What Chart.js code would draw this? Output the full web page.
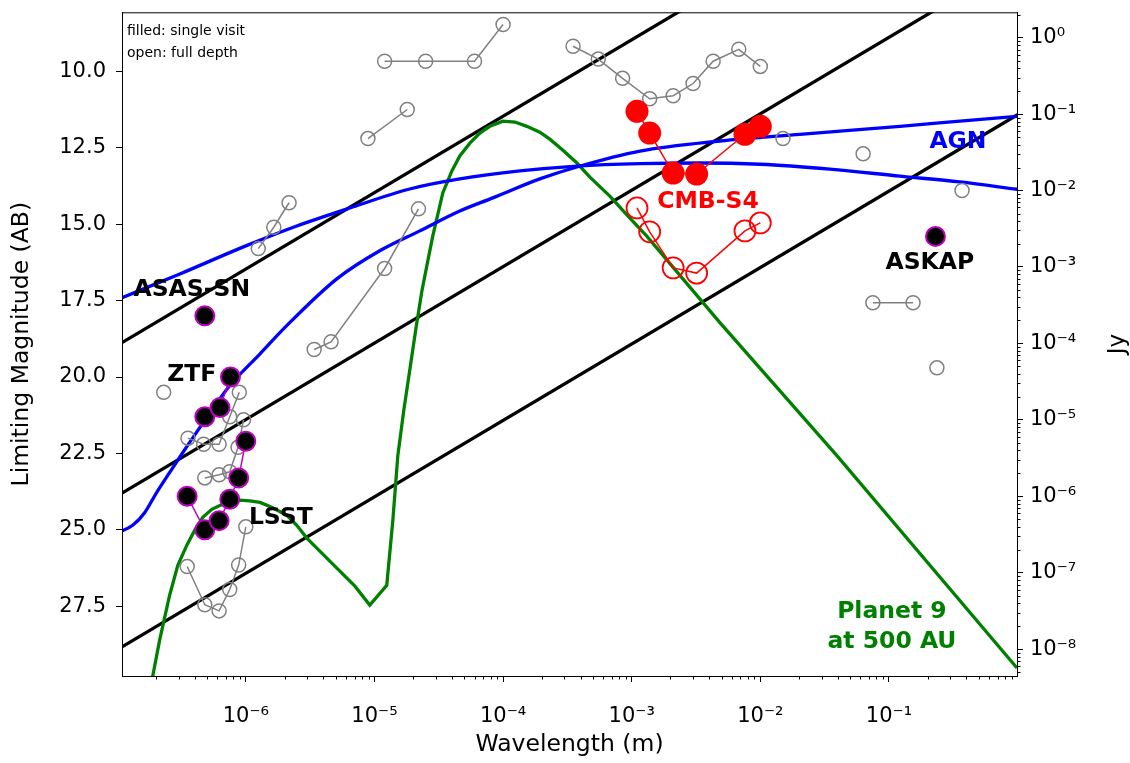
<!DOCTYPE html>
<html>
<head>
<meta charset="utf-8">
<script src="https://cdn.jsdelivr.net/npm/chart.js@4.4.0/dist/chart.umd.min.js"></script>
<style>
  html, body { margin: 0; padding: 0; background: #fff; }
  #wrap { width: 1130px; height: 763px; position: relative; }
</style>
</head>
<body>
<div id="wrap"><canvas id="chart"></canvas></div>
<script>
/** ────── AXES ────── */
const lambdaRange = [1.09e-7, 0.99];
const magRange = [8.07, 29.78];
const magTicks = [10, 12.5, 15, 17.5, 20, 22.5, 25, 27.5];
const lambdaTicks = [1e-6, 1e-5, 1e-4, 1e-3, 1e-2, 1e-1];
const jyTicks = [1, 1e-1, 1e-2, 1e-3, 1e-4, 1e-5, 1e-6, 1e-7, 1e-8];

/** ────── CURVES ────── */
// constant nu*F_nu lines, given at both ends
const diagLambda = [1e-7, 1];
const diagLine1 = [18.97, 1.47];
const diagLine2 = [23.89, 6.39];
const diagLine3 = [28.92, 11.42];

const agnALambda = [1e-7, 3.07e-7, 1e-6, 2.49e-6, 6.44e-6, 1.88e-5, 4.61e-5, 1.35e-4, 3.75e-4, 1.16e-3, 3.39e-3, 9.93e-3, 3.48e-2, 0.122, 0.357, 1];
const agnAMag = [17.47, 16.63, 15.71, 15.06, 14.47, 13.85, 13.52, 13.26, 13.1, 13.02, 13.0, 13.04, 13.2, 13.43, 13.62, 13.86];

const agnBLambda = [1e-7, 1.32e-7, 1.64e-7, 2.03e-7, 2.56e-7, 3.24e-7, 4.8e-7, 7.51e-7, 1.29e-6, 2.08e-6, 5.1e-6,
  1.1e-5, 2.25e-5, 4.61e-5, 8.33e-5, 1.93e-4, 3.75e-4, 1.16e-3, 4.85e-3, 2.03e-2, 0.122, 0.357, 1];
const agnBMag = [25.1, 24.85, 24.43, 23.77, 23.12, 22.47, 21.42, 20.28, 19.24, 18.32, 16.79,
  15.87, 15.22, 14.57, 14.14, 13.52, 13.13, 12.61, 12.28, 12.06, 11.8, 11.63, 11.47];

const planetLambda = [1.73e-7, 1.89e-7, 2.14e-7, 2.56e-7, 2.96e-7, 3.48e-7, 4.01e-7, 4.63e-7, 5.44e-7, 6.28e-7, 7.51e-7,
  8.98e-7, 1.07e-6, 1.29e-6, 1.59e-6, 2.08e-6, 2.49e-6, 2.98e-6, 3.9e-6, 5.1e-6, 7.05e-6, 9.2e-6,
  1.247e-5, 1.39e-5, 1.52e-5, 1.69e-5, 1.88e-5, 2.1e-5, 2.34e-5, 2.6e-5, 2.84e-5, 3.4e-5, 4.0e-5, 4.61e-5,
  5.52e-5, 6.6e-5, 7.9e-5, 9.96e-5, 1.24e-4, 1.53e-4, 1.93e-4, 2.31e-4, 2.92e-4, 3.75e-4, 4.73e-4,
  6.76e-4, 9.68e-4, 1.31e-3, 4.85e-3, 3.94e-2, 0.99];
const planetMag = [30.56, 29.78, 28.6, 27.13, 26.16, 25.5, 25.01, 24.59, 24.33, 24.2, 24.07,
  24.03, 24.05, 24.1, 24.26, 24.52, 24.85, 25.27, 25.76, 26.25, 26.84, 27.46,
  26.81, 24.69, 22.57, 21.1, 19.79, 18.42, 17.18, 16.2, 15.39, 13.98, 13.26, 12.77,
  12.35, 12.02, 11.8, 11.63, 11.66, 11.8, 11.99, 12.22, 12.58, 13.0, 13.46,
  14.08, 14.8, 15.39, 18.22, 22.57, 29.52];

/** ────── SURVEYS ────── */
const lsstLambda = [3.5e-7, 4.8e-7, 6.2e-7, 7.5e-7, 8.8e-7, 1.0e-6];
const lsstSingle = [23.9, 25.0, 24.7, 24.0, 23.3, 22.1];
const lsstFull = [26.2, 27.45, 27.65, 26.95, 26.15, 24.9];

const ztfLambda = [4.8e-7, 6.3e-7, 7.6e-7];
const ztfSingle = [21.3, 21.0, 20.0];

const asassnLambda = [4.8e-7];
const asassnSingle = [18.0];

const askapLambda = [0.23];
const askapSingle = [15.4];

const cmbLambda = [1.1e-3, 1.38e-3, 2.1e-3, 3.2e-3, 7.6e-3, 1.0e-2];
const cmbSingle = [11.31, 12.02, 13.33, 13.36, 12.06, 11.8];
const cmbFull = [14.47, 15.25, 16.43, 16.6, 15.22, 14.96];

const galexLambda = [2.3e-7];
const galexMag = [20.5];
const sdssLambda = [3.55e-7, 4.7e-7, 6.2e-7, 7.5e-7, 8.9e-7];
const sdssMag = [22.0, 22.2, 22.2, 21.3, 20.5];
const ps1Lambda = [4.8e-7, 6.2e-7, 7.5e-7, 8.7e-7, 9.6e-7];
const ps1Mag = [23.3, 23.2, 23.1, 22.3, 21.4];
const tmassLambda = [1.25e-6, 1.65e-6, 2.17e-6];
const tmassMag = [15.8, 15.1, 14.3];
const wiseLambda = [3.4e-6, 4.6e-6, 1.2e-5, 2.2e-5];
const wiseMag = [19.1, 18.85, 16.45, 14.5];
const midirLambda = [8.9e-6, 1.8e-5];
const midirMag = [12.2, 11.25];
const irasLambda = [1.2e-5, 2.5e-5, 6e-5, 1e-4];
const irasMag = [9.67, 9.67, 9.67, 8.47];
const planckLambda = [3.5e-4, 5.5e-4, 8.5e-4, 1.38e-3, 2.1e-3, 3e-3, 4.3e-3, 6.8e-3, 1e-2];
const planckMag = [9.18, 9.6, 10.23, 10.9, 10.8, 10.4, 9.67, 9.28, 9.84];
const radioPairLambda = [0.075, 0.154];
const radioPairMag = [17.57, 17.57];
const radioLambda = [1.5e-2, 6.3e-2, 0.37, 0.236];
const radioMag = [12.2, 12.7, 13.9, 19.7];

/** ────── LABELS ────── */
const labelText = ["ASAS-SN", "ZTF", "LSST", "CMB-S4", "ASKAP", "AGN", "Planet 9", "at 500 AU"];
const labelLambda = [3.8e-7, 3.8e-7, 1.87e-6, 3.92e-3, 0.208, 0.344, 0.1055, 0.1055];
const labelMag = [17.15, 19.92, 24.62, 14.28, 16.27, 12.32, 27.69, 28.67];
const labelColor = ["#000", "#000", "#000", "#ff0000", "#000", "#0000ff", "#008000", "#008000"];

/** ────── HELPERS ────── */
const pts = (xs, ys) => xs.map((x, i) => ({ x, y: ys[i] }));
const SUP = { "-": "⁻", 0: "⁰", 1: "¹", 2: "²", 3: "³", 4: "⁴", 5: "⁵", 6: "⁶", 7: "⁷", 8: "⁸", 9: "⁹" };
const pow10Label = (v) => "10" + String(Math.round(Math.log10(v))).split("").map((c) => SUP[c]).join("");
const magToJy = (m) => Math.pow(10, (8.9 - m) / 2.5);

const FONT = "'DejaVu Sans', 'Liberation Sans', sans-serif";
const GRAY = "#808080";
const MAGENTA = "#bf00bf";

function curve(data, color, order, smooth) {
  return {
    data, borderColor: color, borderWidth: 3.3, pointRadius: 0, fill: false, order,
    tension: smooth ? 0.4 : 0, cubicInterpolationMode: smooth ? "monotone" : "default",
  };
}
function survey(data, opts) {
  return Object.assign({
    data, showLine: true, borderColor: GRAY, borderWidth: 1.5,
    pointRadius: 7, pointBorderWidth: 1.5, pointBorderColor: GRAY,
    pointBackgroundColor: "rgba(0,0,0,0)", fill: false, tension: 0, order: 3,
  }, opts);
}
function blackDots(data) {
  return survey(data, {
    borderColor: MAGENTA, pointRadius: 9.5, pointBorderWidth: 2,
    pointBorderColor: MAGENTA, pointBackgroundColor: "#000", order: 1,
  });
}

const datasets = [
  blackDots(pts(lsstLambda, lsstSingle)),
  blackDots(pts(ztfLambda, ztfSingle)),
  blackDots(pts(asassnLambda, asassnSingle)),
  blackDots(pts(askapLambda, askapSingle)),
  survey(pts(cmbLambda, cmbSingle), {
    borderColor: "#ff0000", pointRadius: 11.5, pointBorderWidth: 0,
    pointBorderColor: "#ff0000", pointBackgroundColor: "#ff0000", order: 2,
  }),
  survey(pts(cmbLambda, cmbFull), {
    borderColor: "#ff0000", pointRadius: 10.5, pointBorderWidth: 1.8,
    pointBorderColor: "#ff0000", order: 2,
  }),
  survey(pts(lsstLambda, lsstFull)),
  survey(pts(galexLambda, galexMag), { showLine: false }),
  survey(pts(sdssLambda, sdssMag)),
  survey(pts(ps1Lambda, ps1Mag)),
  survey(pts(tmassLambda, tmassMag)),
  survey(pts(wiseLambda, wiseMag)),
  survey(pts(midirLambda, midirMag)),
  survey(pts(irasLambda, irasMag)),
  survey(pts(planckLambda, planckMag)),
  survey(pts(radioPairLambda, radioPairMag)),
  survey(pts(radioLambda, radioMag), { showLine: false }),
  curve(pts(agnALambda, agnAMag), "#0000ff", 5, true),
  curve(pts(agnBLambda, agnBMag), "#0000ff", 5, true),
  curve(pts(planetLambda, planetMag), "#008000", 6, false),
  curve(pts(diagLambda, diagLine1), "#000", 7, false),
  curve(pts(diagLambda, diagLine2), "#000", 7, false),
  curve(pts(diagLambda, diagLine3), "#000", 7, false),
];

/** ────── DECORATION ────── */
function minorTicks(ctx, scale, side) {
  const lo = Math.floor(Math.log10(scale.min));
  const hi = Math.ceil(Math.log10(scale.max));
  const { right, bottom } = scale.chart.chartArea;
  ctx.beginPath();
  for (let d = lo; d <= hi; d++) {
    for (let k = 2; k <= 9; k++) {
      const v = k * Math.pow(10, d);
      if (v < scale.min || v > scale.max) continue;
      const p = Math.round(scale.getPixelForValue(v)) + 0.5;
      if (side === "bottom") { ctx.moveTo(p, bottom); ctx.lineTo(p, bottom + 3.5); }
      else { ctx.moveTo(right, p); ctx.lineTo(right + 3.5, p); }
    }
  }
  ctx.stroke();
}

const decor = {
  id: "decor",
  afterDatasetsDraw(chart) {
    const { ctx, scales } = chart;
    ctx.save();
    ctx.textAlign = "center";
    ctx.textBaseline = "middle";
    ctx.font = `bold 23.5px ${FONT}`;
    labelText.forEach((t, i) => {
      ctx.fillStyle = labelColor[i];
      ctx.fillText(t, scales.x.getPixelForValue(labelLambda[i]), scales.y.getPixelForValue(labelMag[i]));
    });
    ctx.restore();
  },
  afterDraw(chart) {
    const { ctx, chartArea: a, scales } = chart;
    ctx.save();
    ctx.strokeStyle = "#000";
    ctx.lineWidth = 1;
    ctx.strokeRect(a.left + 0.5, a.top + 0.5, a.right - a.left, a.bottom - a.top);
    minorTicks(ctx, scales.x, "bottom");
    minorTicks(ctx, scales.y2, "right");

    ctx.fillStyle = "#000";
    ctx.font = `14px ${FONT}`;
    ctx.textAlign = "left";
    ctx.textBaseline = "middle";
    ctx.fillText("filled: single visit", a.left + 5, a.top + 19);
    ctx.fillText("open: full depth", a.left + 5, a.top + 41);

    ctx.translate(1118, (a.top + a.bottom) / 2);
    ctx.rotate(-Math.PI / 2);
    ctx.textAlign = "center";
    ctx.font = `23px ${FONT}`;
    ctx.fillText("Jy", 0, 0);
    ctx.restore();
  },
};

/** ────── CHART ────── */
const tickFont = { family: FONT, size: 21 };
const titleFont = { family: FONT, size: 23.5 };
const axisGrid = { drawOnChartArea: false, drawTicks: true, tickLength: 6, color: "#000" };
const axisBorder = { display: true, color: "#000", width: 1 };

new Chart(document.getElementById("chart"), {
  type: "line",
  data: { datasets },
  options: {
    responsive: true,
    maintainAspectRatio: false,
    animation: false,
    layout: { padding: { top: 11, left: 0, right: 0, bottom: 0 } },
    plugins: { legend: { display: false }, tooltip: { enabled: false } },
    scales: {
      x: {
        type: "logarithmic",
        min: lambdaRange[0],
        max: lambdaRange[1],
        grid: axisGrid,
        border: axisBorder,
        afterBuildTicks: (s) => { s.ticks = lambdaTicks.map((v) => ({ value: v })); },
        afterFit: (s) => { s.height = 87; s.paddingLeft = 0; s.paddingRight = 0; },
        ticks: { font: tickFont, color: "#000", padding: 22, maxRotation: 0, autoSkip: false, callback: (v) => pow10Label(v) },
        title: { display: true, text: "Wavelength (m)", font: titleFont, color: "#000", padding: { top: 4, bottom: 4 } },
      },
      y: {
        type: "linear",
        reverse: true,
        min: magRange[0],
        max: magRange[1],
        grid: axisGrid,
        border: axisBorder,
        afterBuildTicks: (s) => { s.ticks = magTicks.map((v) => ({ value: v })); },
        afterFit: (s) => { s.width = 122; s.paddingTop = 0; s.paddingBottom = 0; },
        ticks: { font: tickFont, color: "#000", padding: 10, callback: (v) => v.toFixed(1) },
        title: { display: true, text: "Limiting Magnitude (AB)", font: titleFont, color: "#000", padding: { top: 8, bottom: 4 } },
      },
      y2: {
        type: "logarithmic",
        position: "right",
        display: true,
        min: magToJy(magRange[1]),
        max: magToJy(magRange[0]),
        grid: axisGrid,
        border: axisBorder,
        afterBuildTicks: (s) => { s.ticks = jyTicks.map((v) => ({ value: v })); },
        afterFit: (s) => { s.width = 113; s.paddingTop = 0; s.paddingBottom = 0; },
        ticks: { font: tickFont, color: "#000", padding: 7, autoSkip: false, callback: (v) => pow10Label(v) },
      },
    },
  },
  plugins: [decor],
});
</script>
</body>
</html>
